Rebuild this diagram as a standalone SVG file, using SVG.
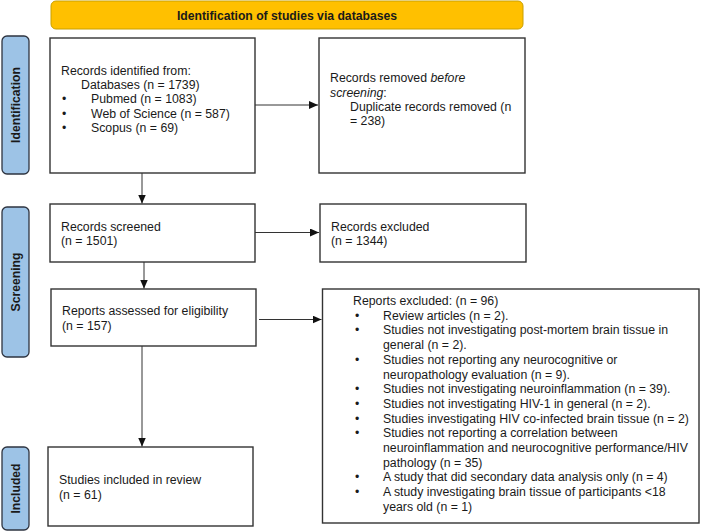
<svg xmlns="http://www.w3.org/2000/svg" width="709" height="531" viewBox="0 0 709 531">
<style>
.bg{fill:#ffffff}
.box{fill:#ffffff;stroke:#333333;stroke-width:1.4}
.hdr{fill:#FFC000;stroke:#C9A000;stroke-width:1}
.side{fill:#9DC3E6;stroke:#2E3440;stroke-width:1.3}
.t{font-family:"Liberation Sans",Arial,sans-serif;font-size:12.3px;fill:#1a1a1a}
.b{font-family:"Liberation Sans",Arial,sans-serif;font-size:12.2px;font-weight:bold;fill:#1a1a1a}
.c{stroke:#333333;stroke-width:1;fill:none}
</style>
<defs>
<marker id="ah" markerWidth="10" markerHeight="8" refX="9" refY="4" orient="auto" markerUnits="userSpaceOnUse">
<path d="M0,0 L9,4 L0,8 Z" fill="#111111"/>
</marker>
</defs>
<rect class="bg" x="0" y="0" width="709" height="531"/>

<g id="header">
<rect class="hdr" x="51" y="1" width="472" height="28" rx="5"/>
<text class="b" x="287" y="19.5" text-anchor="middle">Identification of studies via databases</text>
</g>

<g id="side-identification">
<rect class="side" x="2" y="36" width="27" height="138" rx="5"/>
<text class="b" transform="translate(19.5,105) rotate(-90)" text-anchor="middle">Identification</text>
</g>
<g id="side-screening">
<rect class="side" x="2" y="207" width="27" height="150" rx="5"/>
<text class="b" transform="translate(19.5,282) rotate(-90)" text-anchor="middle">Screening</text>
</g>
<g id="side-included">
<rect class="side" x="2" y="447" width="27" height="83" rx="5"/>
<text class="b" transform="translate(19.5,488.5) rotate(-90)" text-anchor="middle">Included</text>
</g>

<g id="records-identified">
<rect class="box" x="50" y="38" width="205" height="135"/>
<text class="t" x="61" y="75">Records identified from:</text>
<text class="t" x="81" y="89">Databases (n = 1739)</text>
<text class="t" x="62" y="103">•</text><text class="t" x="91" y="103">Pubmed (n = 1083)</text>
<text class="t" x="62" y="117.5">•</text><text class="t" x="91" y="117.5">Web of Science (n = 587)</text>
<text class="t" x="62" y="131.5">•</text><text class="t" x="91" y="131.5">Scopus (n = 69)</text>
</g>

<g id="records-removed">
<rect class="box" x="319" y="38" width="206" height="135"/>
<text class="t" x="330" y="82">Records removed <tspan font-style="italic">before</tspan></text>
<text class="t" x="330" y="96.5"><tspan font-style="italic">screening</tspan>:</text>
<text class="t" x="350" y="110.5">Duplicate records removed (n</text>
<text class="t" x="350" y="124.5">= 238)</text>
</g>

<g id="records-screened">
<rect class="box" x="50" y="204" width="205" height="58"/>
<text class="t" x="61" y="230.5">Records screened</text>
<text class="t" x="61" y="245">(n = 1501)</text>
</g>

<g id="records-excluded">
<rect class="box" x="320" y="204" width="206" height="58"/>
<text class="t" x="331" y="230.5">Records excluded</text>
<text class="t" x="331" y="245">(n = 1344)</text>
</g>

<g id="reports-assessed">
<rect class="box" x="51" y="289" width="205" height="57"/>
<text class="t" x="62" y="315">Reports assessed for eligibility</text>
<text class="t" x="62" y="329.5">(n = 157)</text>
</g>

<g id="reports-excluded">
<rect class="box" x="322.5" y="289" width="376.5" height="234"/>
<text class="t" x="353" y="305">Reports excluded: (n = 96)</text>
<text class="t" x="355" y="319.7">•</text><text class="t" x="383" y="319.7">Review articles (n = 2).</text>
<text class="t" x="355" y="334.4">•</text><text class="t" x="383" y="334.4">Studies not investigating post-mortem brain tissue in</text>
<text class="t" x="383" y="349.1">general (n = 2).</text>
<text class="t" x="355" y="363.8">•</text><text class="t" x="383" y="363.8">Studies not reporting any neurocognitive or</text>
<text class="t" x="383" y="378.5">neuropathology evaluation (n = 9).</text>
<text class="t" x="355" y="393.2">•</text><text class="t" x="383" y="393.2">Studies not investigating neuroinflammation (n = 39).</text>
<text class="t" x="355" y="407.9">•</text><text class="t" x="383" y="407.9">Studies not investigating HIV-1 in general (n = 2).</text>
<text class="t" x="355" y="422.6">•</text><text class="t" x="383" y="422.6">Studies investigating HIV co-infected brain tissue (n = 2)</text>
<text class="t" x="355" y="437.3">•</text><text class="t" x="383" y="437.3">Studies not reporting a correlation between</text>
<text class="t" x="383" y="452">neuroinflammation and neurocognitive performance/HIV</text>
<text class="t" x="383" y="466.7">pathology (n = 35)</text>
<text class="t" x="355" y="481.4">•</text><text class="t" x="383" y="481.4">A study that did secondary data analysis only (n = 4)</text>
<text class="t" x="355" y="496.1">•</text><text class="t" x="383" y="496.1">A study investigating brain tissue of participants &lt;18</text>
<text class="t" x="383" y="510.8">years old (n = 1)</text>
</g>

<g id="studies-included">
<rect class="box" x="48" y="447" width="205" height="79"/>
<text class="t" x="59" y="484">Studies included in review</text>
<text class="t" x="59" y="498.5">(n = 61)</text>
</g>

<g id="connectors">
<line class="c" x1="255" y1="105" x2="318" y2="105" marker-end="url(#ah)"/>
<line class="c" x1="142" y1="173" x2="142" y2="203.5" marker-end="url(#ah)"/>
<line class="c" x1="255" y1="232.5" x2="319" y2="232.5" marker-end="url(#ah)"/>
<line class="c" x1="144" y1="262" x2="144" y2="288.5" marker-end="url(#ah)"/>
<line class="c" x1="259" y1="319.5" x2="321.5" y2="319.5" marker-end="url(#ah)"/>
<line class="c" x1="142" y1="346" x2="142" y2="446.5" marker-end="url(#ah)"/>
</g>
</svg>
